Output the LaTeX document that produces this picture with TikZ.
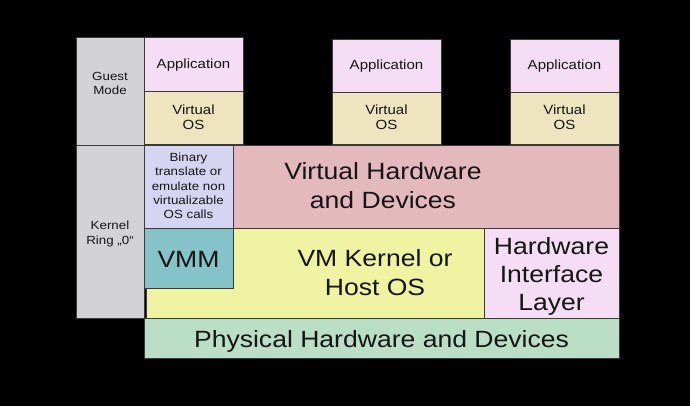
\documentclass[tikz,border=0pt]{standalone}
\usepackage{fontspec}
\setmainfont[FakeStretch=1.13]{Liberation Sans}
\definecolor{cgray}{HTML}{D3D3D6}
\definecolor{capp}{HTML}{F5DDF5}
\definecolor{cvos}{HTML}{EEE5C0}
\definecolor{cbin}{HTML}{D5D5F2}
\definecolor{cvmm}{HTML}{86C3C9}
\definecolor{cvhw}{HTML}{E3B9BD}
\definecolor{ckern}{HTML}{EFF3A2}
\definecolor{cphys}{HTML}{BADFC6}
\definecolor{cline}{HTML}{3A3A3A}
\definecolor{ctext}{HTML}{151515}
\tikzset{
  box/.style={draw=cline, line width=0.9pt, rectangle, inner sep=0pt},
  txt/.style={align=center, inner sep=0pt, text=ctext},
  small/.style={txt, font=\fontsize{11.8}{14.4}\selectfont,
    execute at begin node={\rule[-2.53pt]{0pt}{13.5pt}},
    execute at end node={\rule[-2.53pt]{0pt}{13.5pt}}},
  medium/.style={txt, font=\fontsize{13.3}{15.3}\selectfont,
    execute at begin node={\rule[-2.85pt]{0pt}{15.2pt}},
    execute at end node={\rule[-2.85pt]{0pt}{15.2pt}}},
  big/.style={txt, font=\fontsize{23.5}{28.3}\selectfont,
    execute at begin node={\rule[-5.03pt]{0pt}{26.89pt}},
    execute at end node={\rule[-5.03pt]{0pt}{26.89pt}}}
}
\begin{document}
\begin{tikzpicture}[x=1pt,y=-1pt]
\useasboundingbox (0,0) rectangle (690,406);
\fill[black] (0,0) rectangle (690,406);
% left column
\node[box, fill=cgray, minimum width=68pt, minimum height=108pt] (guest) at (110,91) {};
\node[small] (guesttext) at (110,84.5) {Guest\\Mode};
\node[box, fill=cgray, minimum width=68pt, minimum height=173pt] (kernel) at (110,231.5) {};
\node[small] (kerneltext) at (110,234) {Kernel\\Ring „0“};
% guests
\node[box, fill=capp, minimum width=99pt, minimum height=54pt] (app1) at (193.5,64) {};
\node[medium] (app1text) at (193.5,63.7) {Application};
\node[box, fill=cvos, minimum width=99pt, minimum height=53pt] (vos1) at (193.5,117.5) {};
\node[medium] (vos1text) at (193.5,118.8) {Virtual\\OS};
\node[box, fill=capp, minimum width=109pt, minimum height=53pt] (app2) at (386.5,65.5) {};
\node[medium] (app2text) at (386.5,64.6) {Application};
\node[box, fill=cvos, minimum width=109pt, minimum height=52pt] (vos2) at (386.5,118) {};
\node[medium] (vos2text) at (386.5,118.9) {Virtual\\OS};
\node[box, fill=capp, minimum width=109pt, minimum height=53pt] (app3) at (564.5,65.5) {};
\node[medium] (app3text) at (564.5,64.6) {Application};
\node[box, fill=cvos, minimum width=109pt, minimum height=52pt] (vos3) at (564.5,118) {};
\node[medium] (vos3text) at (564.5,118.9) {Virtual\\OS};
% virtual hardware
\node[box, fill=cvhw, minimum width=386pt, minimum height=83pt] (vhw) at (426,186.5) {};
\node[big] (vhwtext) at (383,188) {Virtual Hardware\\and Devices};
\node[box, fill=cbin, minimum width=89pt, minimum height=83pt] (bin) at (188.5,186.5) {};
\node[small] (bintext) at (188.5,187) {Binary\\translate or\\emulate non\\virtualizable\\OS calls};
% kernel level
\node[box, fill=ckern, minimum width=338pt, minimum height=90pt] (host) at (315,273) {};
\node[big] (hosttext) at (375,275) {VM Kernel or\\Host OS};
\node[box, fill=capp, minimum width=135pt, minimum height=90pt] (hil) at (551.5,273) {};
\node[big] (hiltext) at (551.5,276.3) {Hardware\\Interface\\Layer};
\node[box, fill=cvmm, minimum width=89pt, minimum height=60pt] (vmm) at (188.5,258) {};
\node[big] (vmmtext) at (188.5,258.8) {VMM};
% physical
\node[box, fill=cphys, minimum width=475pt, minimum height=40pt] (phys) at (381.5,338) {};
\node[big] (phystext) at (381.5,338.7) {Physical Hardware and Devices};
\end{tikzpicture}
\end{document}
